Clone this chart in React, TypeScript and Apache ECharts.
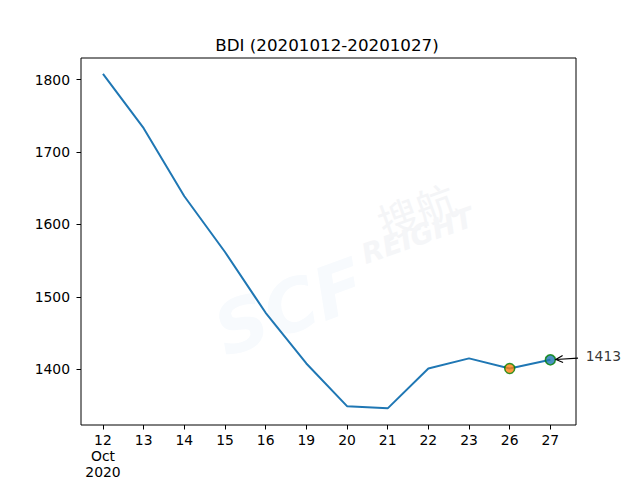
import React, { useEffect, useRef } from "react";
import * as echarts from "echarts";

const dayLabels = ["12", "13", "14", "15", "16", "19", "20", "21", "22", "23", "26", "27"];
const bdiValues = [1808, 1733, 1639, 1562, 1478, 1408, 1349, 1346, 1401, 1415, 1401, 1413];
const yTicks = [1400, 1500, 1600, 1700, 1800];
const titleText = "BDI (20201012-20201027)";
const prevIndex = 10;
const lastIndex = 11;
const annotationText = "1413";

const FONT = "DejaVu Sans";

export default function App() {
  const ref = useRef<HTMLDivElement>(null);
  useEffect(() => {
    if (!ref.current) return;
    const chart = echarts.init(ref.current, undefined, { renderer: "svg" });
    const idx = dayLabels.map((_, i) => i);
    const lineData = bdiValues.map((v, i) => [i, v]);
    chart.setOption({
      animation: false,
      backgroundColor: "#fff",
      title: {
        text: titleText,
        left: 322,
        top: 31,
        textAlign: "center",
        textStyle: { fontFamily: FONT, fontSize: 16.7, fontWeight: "normal", color: "#000" },
      },
      graphic: [
        {
          type: "text",
          x: 205,
          y: 300,
          rotation: 0.35,
          style: {
            text: "SCF",
            font: "italic bold 72px " + FONT,
            fill: "#f7fafd",
          },
          z: -10,
        },
        {
          type: "text",
          x: 372,
          y: 205,
          rotation: 0.35,
          style: { text: "搜航", font: "40px 'Noto Sans CJK SC'", fill: "#f4f5f7" },
          z: -10,
        },
        {
          type: "text",
          x: 358,
          y: 242,
          rotation: 0.34,
          style: { text: "REIGHT", font: "italic bold 28px " + FONT, fill: "#f5f6f8" },
          z: -10,
        },
      ],
      grid: {
        left: 81,
        right: 64,
        top: 58,
        bottom: 53,
        show: true,
        borderColor: "#000",
        borderWidth: 1,
        backgroundColor: "transparent",
      },
      xAxis: {
        type: "value",
        min: -0.54,
        max: 11.63,
        axisLine: { show: false, onZero: false },
        splitLine: { show: false },
        axisTick: {
          show: true,
          inside: false,
          length: 4.5,
          lineStyle: { color: "#000" },
          customValues: idx,
        },
        axisLabel: {
          customValues: idx,
          margin: 7,
          fontFamily: FONT,
          fontSize: 13.9,
          color: "#000",
          lineHeight: 16,
          formatter: (v: number) => {
            const i = Math.round(v);
            if (i === 0) return dayLabels[0] + "\nOct\n2020";
            return dayLabels[i] ?? "";
          },
        },
      },
      yAxis: {
        type: "value",
        min: 1323,
        max: 1830,
        axisLine: { show: false, onZero: false },
        splitLine: { show: false },
        axisTick: {
          show: true,
          inside: false,
          length: 4.5,
          lineStyle: { color: "#000" },
          customValues: yTicks,
        },
        axisLabel: {
          customValues: yTicks,
          margin: 11,
          fontFamily: FONT,
          fontSize: 13.9,
          color: "#000",
          formatter: (v: number) => String(v),
        },
      },
      series: [
        {
          type: "line",
          data: lineData,
          showSymbol: false,
          symbol: "none",
          clip: false,
          lineStyle: { color: "#1f77b4", width: 2 },
          z: 2,
        },
        {
          type: "scatter",
          data: [[prevIndex, bdiValues[prevIndex]]],
          symbol: "circle",
          symbolSize: 10,
          clip: false,
          itemStyle: { color: "#ff7f0e", borderColor: "#008000", borderWidth: 1.5 },
          z: 3,
        },
        {
          type: "scatter",
          data: [[lastIndex, bdiValues[lastIndex]]],
          symbol: "circle",
          symbolSize: 10,
          clip: false,
          itemStyle: { color: "#1f77b4", borderColor: "#008000", borderWidth: 1.5 },
          z: 3,
        },
        {
          type: "custom",
          clip: false,
          silent: true,
          z: 4,
          data: [[11.68, bdiValues[lastIndex] + 2.5, lastIndex, bdiValues[lastIndex]]],
          renderItem: (params: any, api: any) => {
            const p0 = api.coord([api.value(0), api.value(1)]);
            const p1 = api.coord([api.value(2), api.value(3)]);
            const dx = p1[0] - p0[0];
            const dy = p1[1] - p0[1];
            const len = Math.sqrt(dx * dx + dy * dy);
            const ux = dx / len;
            const uy = dy / len;
            const end = [p1[0] - ux * 5.5, p1[1] - uy * 5.5];
            const ah = 7;
            const aw = 3.5;
            const base = [end[0] - ux * ah, end[1] - uy * ah];
            const a = [base[0] - uy * aw, base[1] + ux * aw];
            const b = [base[0] + uy * aw, base[1] - ux * aw];
            return {
              type: "group",
              children: [
                {
                  type: "line",
                  shape: { x1: p0[0], y1: p0[1], x2: end[0], y2: end[1] },
                  style: { stroke: "#000", lineWidth: 1.2 },
                },
                {
                  type: "polyline",
                  shape: { points: [a, end, b] },
                  style: { stroke: "#000", lineWidth: 1.2, fill: "none" },
                },
              ],
            };
          },
        },
        {
          type: "scatter",
          data: [[11.87, bdiValues[lastIndex] + 5]],
          symbolSize: 0,
          clip: false,
          silent: true,
          label: {
            show: true,
            position: "right",
            distance: 0,
            formatter: () => annotationText,
            fontFamily: FONT,
            fontSize: 13.9,
            color: "#000",
          },
          z: 4,
        },
      ],
    });
    return () => chart.dispose();
  }, []);
  return <div ref={ref} style={{ width: 640, height: 480, position: "absolute", left: 0, top: 0 }} />;
}
